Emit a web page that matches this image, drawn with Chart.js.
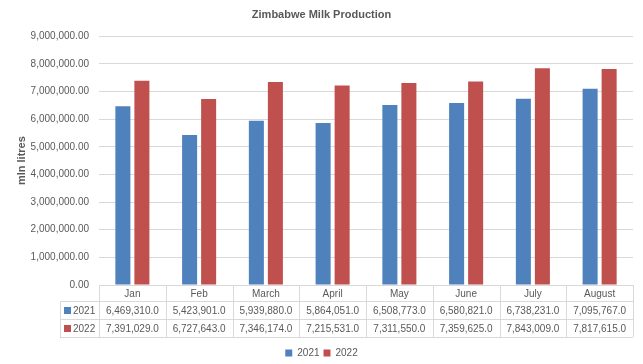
<!DOCTYPE html>
<html>
<head>
<meta charset="utf-8">
<script src="https://cdn.jsdelivr.net/npm/chart.js@4/dist/chart.umd.min.js"></script>
<style>
  html, body { margin: 0; padding: 0; background: #fff; }
  #wrap { width: 643px; height: 364px; }
</style>
</head>
<body>
<div id="wrap"><canvas id="milk"></canvas></div>
<script>
var months = ['Jan', 'Feb', 'March', 'April', 'May', 'June', 'July', 'August'];
var seriesNames = ['2021', '2022'];
var values2021 = [6469310, 5423901, 5939880, 5864051, 6508773, 6580821, 6738231, 7095767];
var values2022 = [7391029, 6727643, 7346174, 7215531, 7311550, 7359625, 7843009, 7817615];
var colours = ['#4f81bd', '#c0504d'];

var textCol = '#595959';
var lineCol = '#d9d9d9';
var fontName = '"Liberation Sans", Arial, sans-serif';

function fmt(v, d) {
    return v.toLocaleString('en-US', { minimumFractionDigits: d, maximumFractionDigits: d });
}

// data table under the bars, lined up with the x scale
var tablePlugin = {
    id: 'dataTable',
    afterDraw: function (chart) {
        var ctx = chart.ctx;
        var xs = chart.scales.x;
        var area = chart.chartArea;
        var n = months.length;
        var colW = (area.right - area.left) / n;
        var top = area.bottom;
        var rowH = [16, 18, 18];
        var y1 = top + rowH[0], y2 = y1 + rowH[1], y3 = y2 + rowH[2];
        var legLeft = area.left - 39;

        ctx.save();
        ctx.strokeStyle = lineCol;
        ctx.lineWidth = 1;
        ctx.beginPath();
        // horizontal lines
        ctx.moveTo(area.left, top + 0.5); ctx.lineTo(area.right, top + 0.5);
        [y1, y2, y3].forEach(function (y) {
            ctx.moveTo(legLeft, y + 0.5); ctx.lineTo(area.right, y + 0.5);
        });
        // vertical lines
        ctx.moveTo(legLeft + 0.5, y1); ctx.lineTo(legLeft + 0.5, y3);
        for (var i = 0; i <= n; i++) {
            var x = Math.round(area.left + i * colW) + 0.5;
            ctx.moveTo(x, top); ctx.lineTo(x, y3);
        }
        ctx.stroke();

        ctx.font = '10px ' + fontName;
        ctx.fillStyle = textCol;
        ctx.textBaseline = 'middle';
        ctx.textAlign = 'center';
        var rows = [values2021, values2022];
        var mids = [(y1 + y2) / 2 + 1, (y2 + y3) / 2 + 1];
        rows.forEach(function (vals, r) {
            vals.forEach(function (v, i) {
                ctx.fillText(fmt(v, 1), xs.getPixelForValue(i), mids[r]);
            });
        });
        // series keys
        ctx.textAlign = 'left';
        seriesNames.forEach(function (s, r) {
            ctx.fillStyle = colours[r];
            ctx.fillRect(legLeft + 4, mids[r] - 4, 7, 7);
            ctx.fillStyle = textCol;
            ctx.fillText(s, legLeft + 13, mids[r]);
        });
        ctx.restore();
    }
};

var ctx = document.getElementById('milk').getContext('2d');
var milkChart = new Chart(ctx, {
    type: 'bar',
    data: {
        labels: months,
        datasets: [
            { label: seriesNames[0], data: values2021, backgroundColor: colours[0] },
            { label: seriesNames[1], data: values2022, backgroundColor: colours[1] }
        ]
    },
    options: {
        responsive: true,
        maintainAspectRatio: false,
        animation: false,
        layout: { padding: { left: 10, right: 10, top: 4, bottom: -4 } },
        datasets: { bar: { categoryPercentage: 0.57, barPercentage: 0.79 } },
        plugins: {
            title: {
                display: true,
                text: 'Zimbabwe Milk Production',
                color: textCol,
                font: { family: fontName, size: 11, weight: 'bold' },
                padding: { top: 4, bottom: 15 }
            },
            legend: {
                position: 'bottom',
                labels: {
                    boxWidth: 7, boxHeight: 7, padding: 4,
                    color: textCol,
                    font: { family: fontName, size: 10 }
                }
            },
            tooltip: { enabled: false }
        },
        scales: {
            x: {
                grid: { display: false, drawTicks: false },
                border: { display: false },
                ticks: { color: textCol, font: { family: fontName, size: 10 }, padding: 3 },
                afterFit: function (scale) { scale.height = 59; }
            },
            y: {
                min: 0,
                max: 9000000,
                ticks: {
                    stepSize: 1000000,
                    color: textCol,
                    font: { family: fontName, size: 10 },
                    padding: 10,
                    callback: function (v) { return fmt(v, 2); }
                },
                grid: { color: lineCol, drawTicks: false },
                border: { display: false },
                title: {
                    display: true,
                    text: 'mln litres',
                    color: textCol,
                    font: { family: fontName, size: 11, weight: 'bold' },
                    padding: { top: 5, bottom: 0 }
                },
                afterFit: function (scale) { scale.width = 89; }
            }
        }
    },
    plugins: [tablePlugin]
});
</script>
</body>
</html>
